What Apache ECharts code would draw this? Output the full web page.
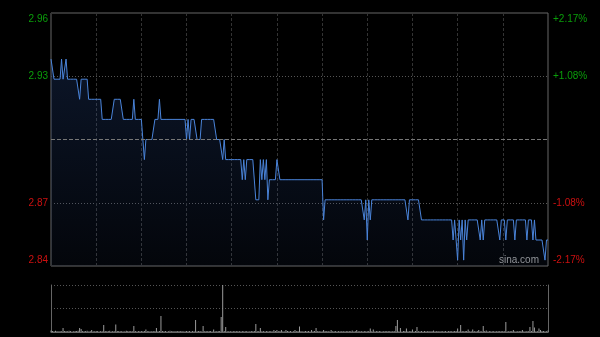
<!DOCTYPE html>
<html>
<head>
<meta charset="utf-8">
<script src="https://cdn.jsdelivr.net/npm/echarts@6/dist/echarts.min.js"></script>
<style>
html,body{margin:0;padding:0;background:#000;}
#c{width:600px;height:337px;}
</style>
</head>
<body>
<div id="c"></div>
<script>
// ---- data (one value per trading minute, 9:30-12:00 + 13:00-16:00) ----
const prevClose = 2.90;
const pctRange = 2.17;
const leftLabels  = ['2.84', '2.87', '', '2.93', '2.96'];
const rightLabels = ['-2.17%', '-1.08%', '', '+1.08%', '+2.17%'];

const prices = [
2.94,2.94,2.93,2.93,2.93,2.93,2.93,2.94,2.93,2.93,
2.94,2.93,2.93,2.93,2.93,2.93,2.93,2.93,2.93,2.92,
2.93,2.93,2.93,2.93,2.93,2.92,2.92,2.92,2.92,2.92,
2.92,2.92,2.92,2.92,2.91,2.91,2.91,2.91,2.91,2.91,
2.91,2.91,2.92,2.92,2.92,2.92,2.92,2.92,2.91,2.91,
2.91,2.91,2.91,2.91,2.91,2.92,2.91,2.91,2.91,2.91,
2.91,2.90,2.89,2.90,2.90,2.90,2.90,2.90,2.90,2.91,
2.91,2.91,2.92,2.91,2.91,2.91,2.91,2.91,2.91,2.91,
2.91,2.91,2.91,2.91,2.91,2.91,2.91,2.91,2.91,2.91,
2.90,2.91,2.90,2.91,2.91,2.91,2.91,2.90,2.90,2.90,
2.91,2.91,2.91,2.91,2.91,2.91,2.91,2.91,2.91,2.91,
2.90,2.90,2.90,2.90,2.89,2.90,2.89,2.89,2.89,2.89,
2.89,2.89,2.89,2.89,2.89,2.89,2.89,2.88,2.89,2.88,
2.89,2.89,2.89,2.89,2.89,2.89,2.87,2.87,2.87,2.89,
2.88,2.89,2.88,2.89,2.87,2.88,2.88,2.88,2.88,2.88,
2.89,2.89,2.88,2.88,2.88,2.88,2.88,2.88,2.88,2.88,
2.88,2.88,2.88,2.88,2.88,2.88,2.88,2.88,2.88,2.88,
2.88,2.88,2.88,2.88,2.88,2.88,2.88,2.88,2.88,2.88,
2.88,2.86,2.87,2.87,2.87,2.87,2.87,2.87,2.87,2.87,
2.87,2.87,2.87,2.87,2.87,2.87,2.87,2.87,2.87,2.87,
2.87,2.87,2.87,2.87,2.87,2.87,2.87,2.87,2.86,2.87,
2.85,2.87,2.86,2.87,2.87,2.87,2.87,2.87,2.87,2.87,
2.87,2.87,2.87,2.87,2.87,2.87,2.87,2.87,2.87,2.87,
2.87,2.87,2.87,2.87,2.87,2.87,2.87,2.86,2.87,2.87,
2.87,2.87,2.87,2.87,2.87,2.87,2.86,2.86,2.86,2.86,
2.86,2.86,2.86,2.86,2.86,2.86,2.86,2.86,2.86,2.86,
2.86,2.86,2.86,2.86,2.86,2.86,2.86,2.85,2.86,2.86,
2.84,2.86,2.85,2.86,2.84,2.86,2.85,2.86,2.86,2.86,
2.86,2.86,2.86,2.86,2.86,2.85,2.86,2.85,2.86,2.86,
2.86,2.86,2.86,2.86,2.86,2.86,2.86,2.86,2.85,2.86,
2.86,2.86,2.85,2.86,2.86,2.86,2.86,2.86,2.85,2.86,
2.86,2.86,2.86,2.86,2.86,2.86,2.85,2.86,2.86,2.86,
2.85,2.86,2.85,2.85,2.85,2.85,2.85,2.85,2.84,2.85,
2.85
];

const volumes = [
30,20,15,25,18,12,20,15,80,22,
18,14,25,20,12,16,22,18,24,80,
60,20,15,18,25,12,20,40,16,14,
20,18,12,22,16,140,20,14,18,25,
12,20,16,150,22,18,14,20,12,16,
25,18,14,20,16,120,22,12,18,15,
20,14,18,50,16,22,12,18,14,20,
80,16,22,320,18,14,20,12,16,25,
14,18,12,20,16,22,14,18,12,16,
20,14,18,12,22,16,240,14,18,20,
12,120,16,20,14,18,22,12,50,16,
14,20,18,300,940,22,100,16,14,20,
12,18,16,22,14,20,12,18,16,14,
20,12,16,18,14,22,160,16,20,80,
14,18,12,20,16,14,22,12,40,18,
40,14,20,40,16,12,40,18,14,20,
12,16,40,14,20,110,18,12,16,22,
14,18,12,40,16,20,80,14,18,12,
16,40,20,14,18,12,40,16,14,20,
12,18,16,14,20,12,18,16,22,14,
30,12,18,40,16,14,20,12,18,16,
14,20,70,16,50,12,18,14,20,16,
12,18,14,20,16,22,12,18,14,120,
240,16,80,12,18,20,70,14,16,22,
50,12,18,100,16,14,20,12,18,16,
14,20,12,18,30,16,14,20,12,18,
16,14,20,12,18,22,16,14,20,18,
70,16,140,20,14,18,22,50,16,14,
50,18,12,20,40,16,14,120,18,30,
12,18,16,14,20,12,18,16,22,14,
18,16,200,12,20,14,18,40,16,12,
20,14,18,40,16,12,20,14,100,18,
220,90,16,14,70,40,18,20,14,16,
30
];
const volumeMax = 940;

// ---- chart ----
const GREEN = '#0a9e0a', RED = '#cc1010';
const FONT = 'Arial, "Liberation Sans", sans-serif';
const priceMin = prevClose * (1 - pctRange / 100);
const priceMax = prevClose * (1 + pctRange / 100);
const totalMinutes = prices.length - 1;

function labelRich(labels) {
  return {
    formatter: function (v, i) {
      const t = labels[i];
      if (!t) return '';
      if (i === 0) return '{rb|' + t + '}';
      if (i === labels.length - 1) return '{gt|' + t + '}';
      return (i < 2 ? '{r|' : '{g|') + t + '}';
    },
    rich: {
      g: { color: GREEN, fontSize: 10, fontFamily: FONT },
      r: { color: RED, fontSize: 10, fontFamily: FONT },
      gt: { color: GREEN, fontSize: 10, fontFamily: FONT, padding: [12, 0, 0, 0] },
      rb: { color: RED, fontSize: 10, fontFamily: FONT, padding: [0, 0, 12, 0] }
    }
  };
}

const chart = echarts.init(document.getElementById('c'), null, { renderer: 'canvas' });
chart.setOption({
  backgroundColor: '#000',
  animation: false,
  grid: [
    { left: 51, right: 52, top: 13, height: 253, show: true, borderColor: '#666', borderWidth: 1, backgroundColor: 'transparent' },
    { left: 51, right: 52, top: 285, height: 47 }
  ],
  xAxis: [
    { type: 'value', gridIndex: 0, min: 0, max: totalMinutes, interval: 30,
      axisLine: { show: false }, axisTick: { show: false }, axisLabel: { show: false },
      splitLine: { show: true, lineStyle: { color: '#333', type: [3, 2], width: 1 } } },
    { type: 'value', gridIndex: 1, min: 0, max: totalMinutes, interval: 30,
      axisLine: { show: true, lineStyle: { color: '#666', width: 1 } },
      axisTick: { show: false }, axisLabel: { show: false }, splitLine: { show: false } }
  ],
  yAxis: [
    { type: 'value', gridIndex: 0, min: priceMin, max: priceMax, show: false, splitLine: { show: false } },
    { type: 'value', gridIndex: 0, position: 'left', min: -pctRange, max: pctRange, interval: pctRange / 2,
      axisLine: { show: false }, axisTick: { show: false },
      axisLabel: Object.assign({ margin: 3 }, labelRich(leftLabels)),
      splitLine: { show: true, lineStyle: { color: ['transparent', '#555', 'transparent', '#555', 'transparent'], type: [1, 2], width: 1 } } },
    { type: 'value', gridIndex: 0, position: 'right', min: -pctRange, max: pctRange, interval: pctRange / 2,
      axisLine: { show: false }, axisTick: { show: false },
      axisLabel: Object.assign({ margin: 5 }, labelRich(rightLabels)),
      splitLine: { show: false } },
    { type: 'value', gridIndex: 1, position: 'left', min: 0, max: volumeMax, interval: volumeMax / 2,
      axisLine: { show: true, lineStyle: { color: '#666', width: 1 } }, axisTick: { show: false }, axisLabel: { show: false },
      splitLine: { show: true, lineStyle: { color: '#555', type: [1, 2], width: 1 } } },
    { type: 'value', gridIndex: 1, position: 'right', min: 0, max: volumeMax,
      axisLine: { show: true, lineStyle: { color: '#666', width: 1 } }, axisTick: { show: false }, axisLabel: { show: false },
      splitLine: { show: false } }
  ],
  series: [
    { type: 'line', xAxisIndex: 0, yAxisIndex: 0,
      data: prices.map((p, i) => [i, p]),
      symbol: 'none', silent: true,
      lineStyle: { color: '#4a84da', width: 1 },
      areaStyle: { color: new echarts.graphic.LinearGradient(0, 0, 0, 1, [
        { offset: 0, color: 'rgba(45,80,150,0.38)' },
        { offset: 1, color: 'rgba(45,80,150,0.10)' }
      ]) },
      markLine: { silent: true, symbol: 'none', label: { show: false },
        lineStyle: { color: '#777', type: [4, 2], width: 1 },
        data: [{ yAxis: prevClose }] }
    },
    { type: 'bar', xAxisIndex: 1, yAxisIndex: 3,
      data: volumes.map((v, i) => [i, v]),
      barWidth: 1, silent: true,
      itemStyle: { color: '#9a9a9a' }
    }
  ],
  graphic: [
    { type: 'text', left: 499, top: 255, silent: true,
      style: { text: 'sina.com', fill: '#9a9a9a', font: '10px ' + FONT } }
  ]
});
</script>
</body>
</html>
